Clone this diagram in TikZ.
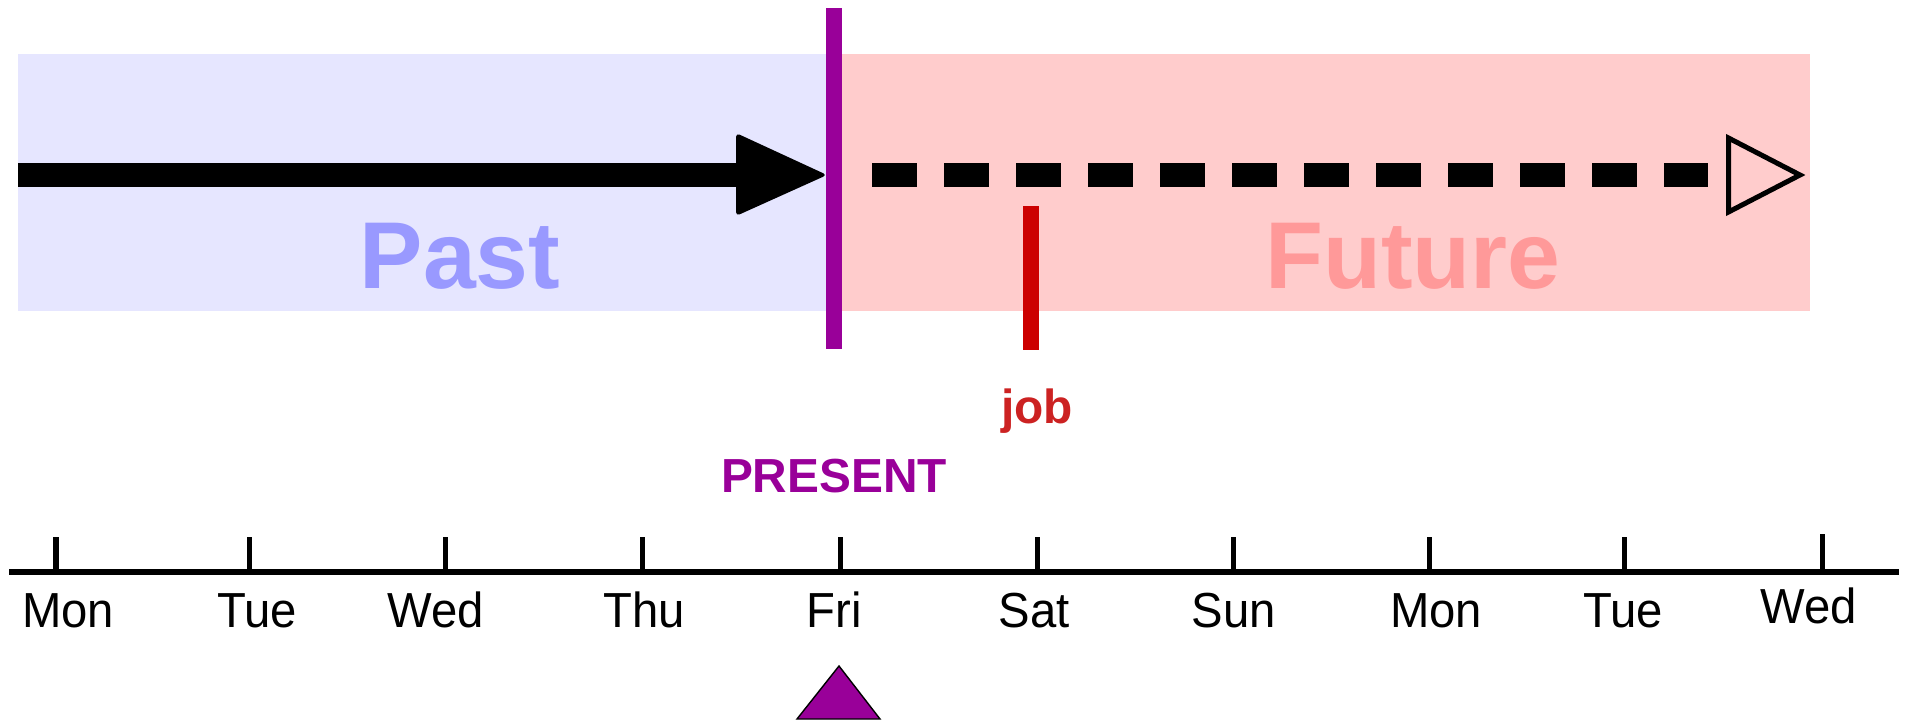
\documentclass[tikz,border=0pt]{standalone}
\usepackage{fontspec}
\setmainfont{Liberation Sans}
\definecolor{pastbg}{RGB}{230,230,255}
\definecolor{futbg}{RGB}{255,204,204}
\definecolor{pastfg}{RGB}{153,153,255}
\definecolor{futfg}{RGB}{255,153,153}
\definecolor{presc}{RGB}{153,0,153}
\definecolor{jobline}{RGB}{204,0,0}
\definecolor{jobtext}{RGB}{204,34,34}
\begin{document}
\begin{tikzpicture}[x=0.01cm,y=-0.01cm,
  bigword/.style={inner sep=0pt,anchor=base,font=\fontsize{27pt}{30pt}\selectfont\bfseries},
  tag/.style={inner sep=0pt,anchor=base,font=\fontsize{13.6pt}{16pt}\selectfont\bfseries},
  day/.style={inner sep=0pt,anchor=base,xscale=0.96,font=\fontsize{14pt}{16pt}\selectfont},
  tickmark/.style={line width=0.05cm,black},
  ]
\useasboundingbox (0,0) rectangle (1908,721);
% backgrounds
\fill[pastbg] (18,54) rectangle (834,311);
\fill[futbg] (834,54) rectangle (1810,311);
\node[bigword,text=pastfg] (past) at (460,288) {Past};
\node[bigword,text=futfg] (future) at (1413,288) {Future};
% past arrow
\coordinate (pstart) at (18,175);
\coordinate (pback) at (736,175);
\draw[line width=0.24cm] (pstart) -- (pback);
\fill[rounded corners=0.04cm] (736,133) -- (827,175) -- (736,216) -- cycle;
% future dashed arrow
\coordinate (fstart) at (872,175);
\coordinate (fend) at (1708,175);
\draw[line width=0.24cm,dash pattern=on 0.45cm off 0.27cm] (fstart) -- (fend);
\draw[line width=0.05cm,line join=miter] (1728.5,138) -- (1800,175) -- (1728.5,212) -- cycle;
% present line
\coordinate (ptop) at (834,8);
\coordinate (pbot) at (834,349);
\draw[presc,line width=0.16cm] (ptop) -- (pbot);
% job line
\coordinate (jtop) at (1031,206);
\coordinate (jbot) at (1031,350);
\draw[jobline,line width=0.16cm] (jtop) -- (jbot);
\node[tag,text=jobtext] (job) at (1037,423) {job};
\node[tag,text=presc] (present) at (834,492) {PRESENT};
% axis
\coordinate (aleft) at (9,572);
\coordinate (aright) at (1899,572);
\draw[line width=0.06cm] (aleft) -- (aright);
\foreach \x/\lx/\d/\t/\b [count=\i] in {56/68/Mon/537/627,249/257/Tue/537/627,445/436/Wed/537/627,642/644/Thu/537/627,840/834/Fri/537/627,1037/1034/Sat/537/627,1233/1234/Sun/537/627,1429/1436/Mon/537/627,1624/1623/Tue/537/627,1822/1809/Wed/534/623}{
  \coordinate (t\i) at (\x,\t);
  \coordinate (b\i) at (\x,572);
  \draw[tickmark] (t\i) -- (b\i);
  \node[day] (d\i) at (\lx,\b) {\d};
}
% present marker
\draw[fill=presc,line width=0.4pt] (797,719) -- (839,666) -- (880,719) -- cycle;
\end{tikzpicture}
\end{document}
